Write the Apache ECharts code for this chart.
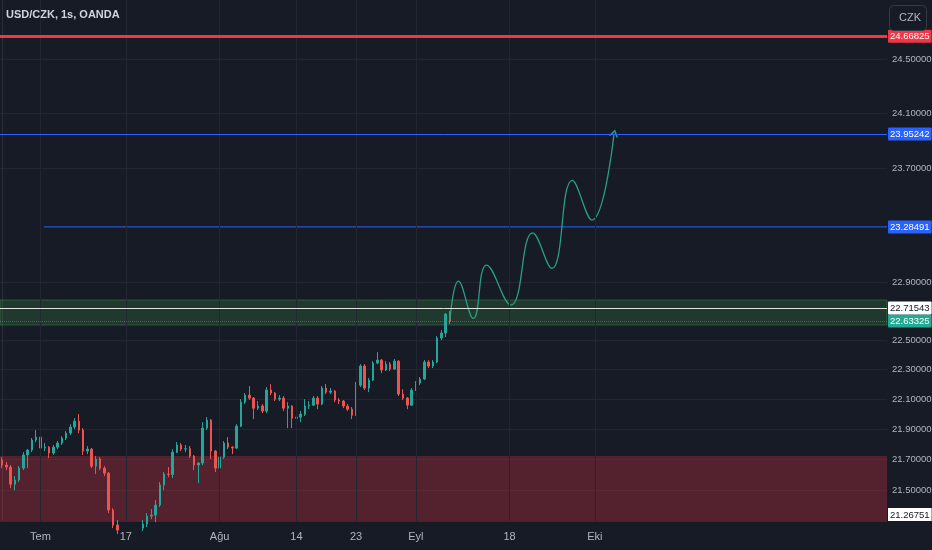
<!DOCTYPE html>
<html><head><meta charset="utf-8">
<script src="https://cdn.jsdelivr.net/npm/echarts@6/dist/echarts.min.js"></script>
<style>html,body{margin:0;padding:0;background:#171b26;}#c{width:932px;height:550px;}</style>
</head><body><div id="c"></div>
<script>
// ---- data ----
// hourly bars summarised into half-day bars: [open, close, low, high]
const candles = [
[21.697,21.664,21.644,21.716],[21.664,21.651,21.631,21.684],[21.651,21.539,21.513,21.664],[21.539,21.566,21.500,21.592],
[21.566,21.644,21.553,21.657],[21.644,21.730,21.631,21.749],[21.730,21.763,21.644,21.769],[21.763,21.829,21.749,21.842],
[21.829,21.848,21.815,21.895],[21.848,21.776,21.749,21.855],[21.776,21.782,21.756,21.809],[21.782,21.743,21.710,21.789],
[21.743,21.782,21.730,21.796],[21.782,21.809,21.769,21.822],[21.809,21.842,21.796,21.855],[21.842,21.875,21.829,21.888],
[21.875,21.915,21.862,21.934],[21.915,21.954,21.901,21.974],[21.954,21.895,21.875,22.001],[21.895,21.756,21.730,21.908],
[21.756,21.769,21.736,21.789],[21.769,21.657,21.644,21.776],[21.657,21.703,21.605,21.723],[21.703,21.644,21.631,21.716],
[21.644,21.611,21.592,21.657],[21.611,21.371,21.351,21.618],[21.371,21.274,21.254,21.383],[21.274,21.241,21.216,21.306],
[21.241,21.209,21.177,21.267],[21.209,21.229,21.177,21.254],[21.229,21.190,21.164,21.248],[21.190,21.216,21.171,21.241],
[21.216,21.254,21.196,21.280],[21.254,21.280,21.235,21.306],[21.280,21.332,21.261,21.351],[21.332,21.338,21.312,21.377],
[21.338,21.403,21.293,21.435],[21.403,21.533,21.390,21.553],[21.533,21.605,21.500,21.618],[21.605,21.603,21.585,21.651],
[21.603,21.749,21.579,21.769],[21.749,21.796,21.743,21.815],[21.796,21.769,21.756,21.809],[21.769,21.772,21.749,21.796],
[21.772,21.723,21.710,21.789],[21.723,21.664,21.631,21.730],[21.664,21.677,21.546,21.684],[21.677,21.908,21.664,21.947],
[21.908,21.961,21.895,21.981],[21.961,21.756,21.703,21.968],[21.756,21.644,21.618,21.763],[21.644,21.716,21.631,21.730],
[21.716,21.809,21.703,21.822],[21.809,21.782,21.769,21.848],[21.782,21.776,21.736,21.789],[21.776,21.921,21.769,21.934],
[21.921,22.081,21.915,22.101],[22.081,22.128,22.068,22.142],[22.128,22.108,22.095,22.189],[22.108,22.041,21.968,22.115],
[22.041,22.055,22.028,22.088],[22.055,22.021,22.008,22.068],[22.021,22.162,22.008,22.182],[22.162,22.142,22.128,22.202],
[22.142,22.101,22.088,22.148],[22.101,22.108,22.088,22.128],[22.108,22.041,22.021,22.122],[22.041,22.055,21.908,22.081],
[22.055,21.974,21.908,22.061],[21.974,21.981,21.954,22.001],[21.981,22.001,21.947,22.021],[22.001,22.055,21.988,22.101],
[22.055,22.061,22.034,22.088],[22.061,22.108,22.055,22.122],[22.108,22.068,22.034,22.122],[22.068,22.175,22.061,22.189],
[22.175,22.148,22.135,22.202],[22.148,22.155,22.135,22.175],[22.155,22.095,22.081,22.162],[22.095,22.088,22.068,22.108],
[22.088,22.055,22.041,22.095],[22.055,22.034,22.021,22.068],[22.034,21.994,21.968,22.048],[21.994,22.195,21.988,22.216],
[22.195,22.324,22.182,22.337],[22.324,22.175,22.162,22.337],[22.175,22.229,22.148,22.243],[22.229,22.344,22.222,22.357],
[22.344,22.364,22.337,22.418],[22.364,22.297,22.276,22.371],[22.297,22.337,22.290,22.357],[22.337,22.303,22.290,22.351],
[22.303,22.357,22.297,22.371],[22.357,22.135,22.122,22.364],[22.135,22.108,22.095,22.168],[22.108,22.061,22.034,22.115],
[22.061,22.162,22.055,22.175],[22.162,22.209,22.155,22.222],[22.209,22.236,22.195,22.249],[22.236,22.351,22.229,22.364],
[22.351,22.324,22.310,22.364],[22.324,22.351,22.310,22.364],[22.351,22.514,22.344,22.527],[22.514,22.548,22.500,22.568],
[22.548,22.678,22.521,22.685],[22.678,22.630,22.609,22.699]
];
// projected path (bar slot, price)
const pathSlots  = [105.0, 107.0, 110.5, 113.6, 119.3, 124.4, 128.9, 133.7, 138.3, 143.5];
const pathPrices = [22.637, 22.906, 22.648, 23.017, 22.740, 23.243, 22.994, 23.616, 23.333, 23.952];
// axis ticks
const priceTicks = [21.5, 21.7, 21.9, 22.1, 22.3, 22.5, 22.9, 23.7, 24.1, 24.5];
const tickDates = ['2023-07-03','2023-07-17','2023-08-01','2023-08-14','2023-08-23','2023-09-01','2023-09-18','2023-10-02'];
const tickTexts = ['Tem','17','Ağu','14','23','Eyl','18','Eki'];
// levels and zones
const redLevel = 24.66825;
const blueTop = 23.95242;
const blueMid = 23.28491;
const blueMidSlots = [9.8, 207.5];
const whiteLevel = 22.71543;
const tealLevel = 22.63325;
const bottomLevel = 21.26751;
const greenZone = [22.6025, 22.775];
const redZone = [21.26751, 21.723];
const yMin = 21.30, yMax = 24.942;

// half-day slots over trading days, starting 2023-06-26 PM
const categories = [];
(function () {
  const d = new Date(Date.UTC(2023, 5, 26));
  while (categories.length < 210) {
    const wd = d.getUTCDay();
    if (wd !== 0 && wd !== 6) {
      const s = d.toISOString().slice(0, 10);
      categories.push(s + ' AM', s + ' PM');
    }
    d.setUTCDate(d.getUTCDate() + 1);
  }
  categories.shift();
  categories.length = 208;
})();
const N = categories.length;
const tickSlots = tickDates.map(d => categories.indexOf(d + ' AM'));

const FONT = "'Liberation Sans',Arial,sans-serif";
const lvlLabel = (val, bg, fg) => ({
  show: true, position: 'end', distance: 1,
  formatter: () => val.toFixed(5),
  color: fg, backgroundColor: bg, padding: [2, 2, 1, 2], borderRadius: 1,
  fontSize: 9.5, fontFamily: FONT
});

const chart = echarts.init(document.getElementById('c'), null, { renderer: 'canvas' });
chart.setOption({
  animation: false,
  backgroundColor: '#171b26',
  title: {
    text: 'USD/CZK, 1s, OANDA', left: 6, top: 9, padding: 0,
    textStyle: { color: '#d1d4dc', fontSize: 11, fontWeight: 'bold', fontFamily: FONT }
  },
  grid: { left: 0, right: 45, top: 0, bottom: 29, outerBoundsMode: 'none', containLabel: false },
  xAxis: [{
    type: 'category', data: categories, boundaryGap: true,
    axisLine: { show: true, lineStyle: { color: '#2a2e39' } },
    axisTick: { show: false },
    splitLine: { show: false },
    axisLabel: {
      interval: (i, v) => tickSlots.indexOf(i) >= 0,
      formatter: (v) => { const k = tickDates.indexOf(v.slice(0, 10)); return (k >= 0 && v.endsWith('AM')) ? tickTexts[k] : ''; },
      color: '#b2b5be', fontSize: 11, margin: 10, fontFamily: FONT
    }
  }, {
    type: 'value', min: -0.5, max: N - 0.5, show: false
  }],
  yAxis: {
    type: 'log', position: 'right', min: yMin, max: yMax,
    axisLine: { show: true, lineStyle: { color: '#2a2e39' } },
    axisTick: { show: false, customValues: priceTicks },
    splitLine: { show: true, lineStyle: { color: '#222633', width: 1 } },
    axisLabel: {
      customValues: priceTicks,
      formatter: v => Number(v).toFixed(5),
      color: '#b2b5be', fontSize: 9.5, margin: 5, fontFamily: FONT
    }
  },
  series: [
    {
      name: 'zones', type: 'line', xAxisIndex: 1, data: [], z: 1, silent: true,
      markArea: {
        silent: true,
        data: [
          [{ yAxis: redZone[0], itemStyle: { color: 'rgba(242,54,69,0.28)' } }, { yAxis: redZone[1] }],
          [{ yAxis: greenZone[0], itemStyle: { color: 'rgba(76,175,80,0.2)', borderColor: 'rgba(76,175,80,0.35)', borderWidth: 1 } }, { yAxis: greenZone[1] }]
        ]
      },
      markLine: {
        silent: true, symbol: ['none', 'none'], label: { show: false },
        lineStyle: { color: '#222633', width: 1, type: 'solid' },
        data: tickSlots.map(s => ({ xAxis: s }))
      }
    },
    {
      name: 'USD/CZK', type: 'candlestick', xAxisIndex: 0, data: candles, z: 2,
      barWidth: 2, clip: true,
      itemStyle: { color: '#26a69a', color0: '#ef5350', borderColor: '#26a69a', borderColor0: '#ef5350', borderWidth: 1 }
    },
    {
      name: 'levels', type: 'line', xAxisIndex: 1, data: [], z: 3, silent: true,
      markLine: {
        silent: true, symbol: ['none', 'none'],
        data: [
          { yAxis: tealLevel, lineStyle: { color: 'rgba(34,171,148,0.55)', width: 1, type: 'dotted' }, label: lvlLabel(tealLevel, '#22ab94', '#ffffff') },
          { yAxis: whiteLevel, lineStyle: { color: '#dfe6df', width: 1, type: 'solid' }, label: lvlLabel(whiteLevel, '#ffffff', '#131722') },
          { yAxis: blueTop, lineStyle: { color: '#2962ff', width: 1, type: 'solid' }, label: lvlLabel(blueTop, '#2962ff', '#ffffff') },
          { yAxis: redLevel, lineStyle: { color: '#f23645', width: 3, type: 'solid' }, label: lvlLabel(redLevel, '#f23645', '#ffffff') }
        ]
      }
    },
    {
      name: 'blue level', type: 'line', xAxisIndex: 1, z: 3, silent: true,
      data: blueMidSlots.map(s => [s, blueMid]),
      symbol: 'none',
      lineStyle: { color: '#2962ff', width: 1 },
      endLabel: Object.assign(lvlLabel(blueMid, '#2962ff', '#ffffff'), { distance: 1 })
    },
    {
      name: 'path', type: 'line', xAxisIndex: 1, z: 4, smooth: 0.45, silent: true,
      data: pathSlots.map((s, i) => i === pathSlots.length - 1
        ? { value: [s, pathPrices[i]], symbol: 'path://M0,10 L5,0 L10,10', symbolSize: [8, 6], symbolRotate: -14,
            itemStyle: { color: 'none', borderColor: '#2a9d84', borderWidth: 1.3 } }
        : [s, pathPrices[i]]),
      showSymbol: true, symbol: 'none',
      lineStyle: { color: '#2a9d84', width: 1.3 }
    }
  ],
  graphic: [
    { type: 'rect', left: 889, top: 5, shape: { width: 37, height: 25, r: 4 }, style: { fill: '#171b26', stroke: '#363a45', lineWidth: 1 }, z: 10 },
    { type: 'text', left: 899, top: 12, style: { text: 'CZK', fill: '#b2b5be', font: "11px " + FONT }, z: 11 },
    {
      type: 'text', left: 888, top: 508, z: 11,
      style: { text: bottomLevel.toFixed(5), fill: '#131722', backgroundColor: '#ffffff', padding: [2, 2, 1, 2], font: "9.5px " + FONT }
    }
  ]
});
</script></body></html>
